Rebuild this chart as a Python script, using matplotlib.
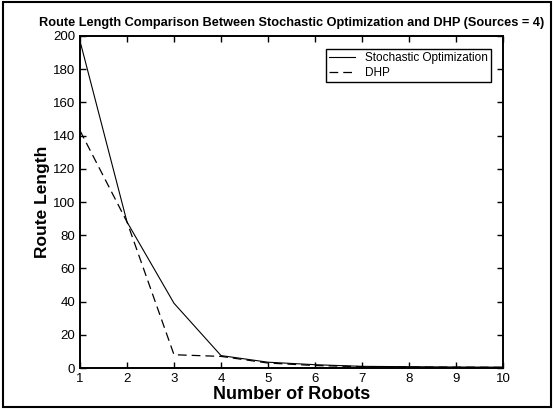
import matplotlib.pyplot as plt
from matplotlib.patches import Rectangle

robots = [1, 2, 3, 4, 5, 6, 7, 8, 9, 10]
stochastic = [197, 88, 39, 7.5, 3.5, 2, 1, 0.8, 0.6, 0.5]
dhp = [143, 88, 8, 7, 3, 1.5, 0.8, 0.6, 0.5, 0.4]

plt.rcParams['font.family'] = ['Liberation Sans', 'DejaVu Sans']

fig = plt.figure(figsize=(5.54, 4.09), dpi=100)
ax = fig.add_axes([0.1444, 0.1002, 0.7636, 0.8118])

ax.plot(robots, stochastic, color='black', linestyle='-', linewidth=0.8,
        label='Stochastic Optimization')
ax.plot(robots, dhp, color='black', linestyle=(0, (7, 4)), linewidth=0.9,
        label='DHP')

ax.set_xlim(1, 10)
ax.set_ylim(0, 200)
ax.set_xticks(robots)
ax.set_yticks(range(0, 201, 20))
ax.tick_params(direction='in', top=True, right=True, labelsize=9.5,
               length=4, width=1)
for s in ax.spines.values():
    s.set_linewidth(1.4)

ax.set_title('Route Length Comparison Between Stochastic Optimization and DHP (Sources = 4)',
             fontsize=9.2, fontweight='bold', pad=7)
ax.set_xlabel('Number of Robots', fontsize=13, fontweight='bold', labelpad=1)
ax.set_ylabel('Route Length', fontsize=12.5, fontweight='bold', labelpad=2)

leg = ax.legend(loc='upper right', bbox_to_anchor=(0.986, 0.979), fontsize=8.5,
                fancybox=False, framealpha=1, edgecolor='black',
                handlelength=2.2, borderpad=0.3, labelspacing=0.2)
leg.get_frame().set_linewidth(1.0)

fig.patches.append(Rectangle((0.006, 0.006), 0.988, 0.988, transform=fig.transFigure,
                             fill=False, edgecolor='black', linewidth=1.5))

fig.savefig('out.png', dpi=100)
